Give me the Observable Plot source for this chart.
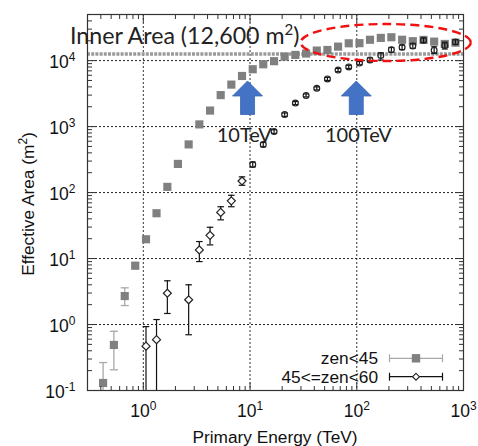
<!DOCTYPE html>
<html><head><meta charset="utf-8">
<script src="https://cdn.jsdelivr.net/npm/d3@7"></script>
<script src="https://cdn.jsdelivr.net/npm/@observablehq/plot@0.6"></script>
<style>
html,body{margin:0;padding:0;background:#fff;}
#chart{width:478px;height:446px;overflow:hidden;}
</style></head><body><div id="chart"></div>
<script>
// ---- data ----
// zen<45 : bin energies (TeV) and effective areas (m^2)
const energyZen45 = [0.42, 0.53, 0.67, 0.84, 1.06, 1.33, 1.68, 2.11, 2.66, 3.35, 4.22, 5.31, 6.68, 8.41, 10.6, 13.3, 16.8, 21.1, 26.6, 33.5, 42.2, 53.1, 66.8, 84.1, 106, 133, 168, 211, 266, 335, 422, 531, 668, 841];
const areaZen45 = [0.13, 0.49, 2.7, 7.8, 19.6, 48.6, 122, 272, 537, 1080, 1750, 3000, 4330, 5850, 7400, 8800, 9800, 11500, 12200, 12800, 14200, 14500, 16300, 18300, 18400, 20700, 22100, 22600, 20700, 19700, 20600, 19400, 17900, 18700];
// visible error bars of zen<45
const errEnergyZen45 = [0.42, 0.53, 0.67, 0.84];
const errLoZen45 = [0.05, 0.206, 1.94, 7.0];
const errHiZen45 = [0.265, 0.79, 3.6, 8.6];
// 45<=zen<60
const energyZen60 = [1.06, 1.33, 1.68, 2.66, 3.35, 4.22, 5.31, 6.68, 8.41, 10.6, 13.3, 16.8, 21.1, 26.6, 33.5, 42.2, 53.1, 66.8, 84.1, 106, 133, 168, 211, 266, 335, 422, 531, 668, 841];
const areaZen60 = [0.47, 0.59, 2.98, 2.37, 13.5, 22.5, 50, 75, 150, 266, 534, 840, 1520, 2270, 2970, 3800, 5280, 7180, 8030, 9170, 10250, 12000, 14600, 15900, 16700, 20400, 14300, 16900, 19100];
const errLoZen60 = [0.03, 0.03, 1.47, 0.70, 9.0, 16.1, 38.6, 61, 129, 245, 495, 790, 1430, 2150, 2820, 3600, 5000, 6800, 7600, 8650, 9550, 10200, 13400, 14700, 15400, 18800, 12800, 15000, 17600];
const errHiZen60 = [0.93, 1.19, 4.6, 4.0, 18.1, 29.8, 61, 91, 173, 290, 575, 895, 1610, 2400, 3130, 4000, 5580, 7600, 8500, 9700, 11000, 13100, 15800, 17200, 18200, 22100, 16200, 19000, 20800];
const innerArea = [12600];
const arrowEnergies = [10, 100];
const arrowLabels = ["10TeV", "100TeV"];
// axes
const xDomain = [0.3, 1000];
const yDomain = [0.1, 50000];
const xTickValues = [1, 10, 100, 1000];
const xTickLabels = ["10^0", "10^1", "10^2", "10^3"];
const yTickValues = [0.1, 1, 10, 100, 1000, 10000];
const yTickLabels = ["10^-1", "10^0", "10^1", "10^2", "10^3", "10^4"];
const xGrid = [1, 10, 100];
const yGrid = [1, 10, 100, 1000, 10000];
const seriesNames = ["zen<45", "45<=zen<60"];
const xTitle = "Primary Energy (TeV)";
const yTitle = "Effective Area (m^2)";
const innerLabel = "Inner Area (12,600 m^2)";

// ---- build tables ----
const zen45 = energyZen45.map((e, i) => ({e, a: areaZen45[i]}));
const err45 = errEnergyZen45.map((e, i) => ({e, lo: errLoZen45[i], hi: errHiZen45[i]}));
const zen60 = energyZen60.map((e, i) => ({e, a: areaZen60[i], lo: errLoZen60[i], hi: errHiZen60[i]}));
const inY = v => v >= yDomain[0] && v <= yDomain[1];

// custom line symbols for ticks/caps
const sym = (dx, dy, both) => ({draw(ctx, size) {
  const r = Math.sqrt(size / Math.PI);
  if (both) { ctx.moveTo(-r * dx, -r * dy); ctx.lineTo(r * dx, r * dy); }
  else { ctx.moveTo(0, 0); ctx.lineTo(r * dx, r * dy); }
}});
const tickUp = sym(0, -1), tickDown = sym(0, 1), tickRight = sym(1, 0), tickLeft = sym(-1, 0);
const capH = sym(1, 0, true);

const xAll = d3.scaleLog().domain(xDomain).ticks();
const yAll = d3.scaleLog().domain(yDomain).ticks();
const isDecade = v => Math.abs(Math.log10(v) - Math.round(Math.log10(v))) < 1e-9;
const xMinor = xAll.filter(v => !isDecade(v)), xMajor = xAll.filter(isDecade);
const yMinor = yAll.filter(v => !isDecade(v)), yMajor = yAll.filter(isDecade);

const axisColor = "#333";
const tickMarks = [];
for (const [anchor, s] of [["bottom", tickUp], ["top", tickDown]]) {
  tickMarks.push(Plot.dot(xMinor, {x: d => d, frameAnchor: anchor, symbol: s, r: 4.5, stroke: axisColor, fill: "none", strokeWidth: 1}));
  tickMarks.push(Plot.dot(xMajor, {x: d => d, frameAnchor: anchor, symbol: s, r: 8, stroke: axisColor, fill: "none", strokeWidth: 1}));
}
for (const [anchor, s] of [["left", tickRight], ["right", tickLeft]]) {
  tickMarks.push(Plot.dot(yMinor, {y: d => d, frameAnchor: anchor, symbol: s, r: 4.5, stroke: axisColor, fill: "none", strokeWidth: 1}));
  tickMarks.push(Plot.dot(yMajor, {y: d => d, frameAnchor: anchor, symbol: s, r: 8, stroke: axisColor, fill: "none", strokeWidth: 1}));
}

const grayBar = "#a8a8a8";
const darkBar = "#111";
const small = d => d.e < 10;

const plot = Plot.plot({
  width: 478, height: 446,
  marginLeft: 87, marginRight: 15, marginTop: 14, marginBottom: 56,
  style: {fontFamily: "'Liberation Sans', Arial, sans-serif", fontSize: "17.5px", background: "white", color: "#111", overflow: "visible"},
  x: {type: "log", domain: xDomain, axis: null},
  y: {type: "log", domain: yDomain, axis: null},
  marks: [
    Plot.ruleX(xGrid, {x: d => d, stroke: "#333", strokeWidth: 1, strokeDasharray: "2,2"}),
    Plot.ruleY(yGrid, {y: d => d, stroke: "#222", strokeWidth: 1, strokeDasharray: "2,2"}),
    Plot.ruleY(innerArea, {y: d => d, stroke: "#9a9a9a", strokeWidth: 3.5, strokeDasharray: "3,1.2"}),
    // zen<45 error bars + squares
    Plot.ruleX(err45, {x: "e", y1: d => Math.max(d.lo, yDomain[0]), y2: "hi", stroke: grayBar, strokeWidth: 1.3}),
    Plot.dot(err45.flatMap(d => [{e: d.e, v: d.lo}, {e: d.e, v: d.hi}]).filter(d => inY(d.v)), {x: "e", y: "v", symbol: capH, r: 4, stroke: grayBar, fill: "none", strokeWidth: 1.3}),
    Plot.dot(zen45, {x: "e", y: "a", symbol: "square", r: 4.6, fill: "#808080", stroke: "none"}),
    // 45<=zen<60 error bars + markers
    Plot.ruleX(zen60, {x: "e", y1: d => Math.max(d.lo, yDomain[0]), y2: "hi", stroke: darkBar, strokeWidth: 1.2}),
    Plot.dot(zen60.flatMap(d => [{e: d.e, v: d.lo, s: small(d)}, {e: d.e, v: d.hi, s: small(d)}]).filter(d => inY(d.v)),
      {x: "e", y: "v", symbol: capH, r: d => d.s ? 3.8 : 3.2, stroke: darkBar, fill: "none", strokeWidth: 1.2}),
    Plot.dot(zen60.filter(small), {x: "e", y: "a", symbol: "diamond2", r: 3.6, fill: "white", stroke: "#222", strokeWidth: 1.2}),
    Plot.dot(zen60.filter(d => !small(d)), {x: "e", y: "a", symbol: "circle", r: 2.9, fill: "none", stroke: "#222", strokeWidth: 1.2}),
    Plot.frame({stroke: axisColor, strokeWidth: 1.2}),
    ...tickMarks,
    Plot.text(xTickValues, {x: d => d, frameAnchor: "bottom", text: (d, i) => xTickLabels[i], textAnchor: "middle", lineAnchor: "bottom", dy: 26.7, fill: "#111"}),
    Plot.text(yTickValues, {y: d => d, frameAnchor: "left", text: (d, i) => yTickLabels[i], textAnchor: "end", dx: -12, dy: 2, fill: "#111"})
  ]
});
document.getElementById("chart").appendChild(plot);

const svg = d3.select(plot.tagName.toLowerCase() === "svg" ? plot : plot.querySelector("svg"));
const sx = plot.scale("x"), sy = plot.scale("y");

// superscript helper: "base^sup" -> base + raised tspan
function supify(node, supSize, rise) {
  const t = node.textContent;
  const m = /^(.*?)\^([^)]+)(\)?)$/.exec(t);
  if (!m) return;
  const sel = d3.select(node);
  sel.text(m[1]);
  sel.append("tspan").attr("dy", -rise).attr("font-size", supSize).text(m[2]);
  if (m[3]) sel.append("tspan").attr("dy", rise).text(m[3]);
}
svg.selectAll("text").each(function() { supify(this, "12px", 7.5); });

const ann = svg.append("g").attr("text-anchor", "start");
// dashed ellipse highlighting the plateau
ann.append("ellipse").attr("cx", 385.7).attr("cy", 42.5).attr("rx", 85).attr("ry", 18.5)
  .attr("fill", "none").attr("stroke", "#f01010").attr("stroke-width", 2.4).attr("stroke-dasharray", "9,5");

// block arrows + labels
arrowEnergies.forEach((e, i) => {
  const cx = sx.apply(e) - (i === 0 ? 2 : 0);
  const tip = 81, base = 96, bottom = 114.5, hw = 15, sw = 7;
  ann.append("path")
    .attr("d", `M${cx},${tip} L${cx + hw},${base} L${cx + sw},${base} L${cx + sw},${bottom} L${cx - sw},${bottom} L${cx - sw},${base} L${cx - hw},${base} Z`)
    .attr("fill", "#4472C4").attr("stroke", "#3a65b5").attr("stroke-width", 0.8);
});
const lblX = [216.7, 325];
arrowLabels.forEach((t, i) => {
  ann.append("text").attr("x", lblX[i]).attr("y", 141.5).attr("text-anchor", "start").attr("font-family", "Lato, 'Open Sans', sans-serif")
    .attr("font-size", 20).attr("fill", "#222").text(t);
});

// inner area label
const il = ann.append("text").attr("x", 70).attr("y", 43.5).attr("text-anchor", "start").attr("font-family", "Lato, 'Open Sans', sans-serif")
  .attr("font-size", 23.2).attr("fill", "#222").text(innerLabel);
supify(il.node(), "15px", 8.5);

// axis titles
ann.append("text").attr("x", 275).attr("y", 442.5).attr("text-anchor", "middle")
  .attr("font-family", "'Liberation Sans', Arial, sans-serif").attr("font-size", 17.3).attr("fill", "#111").text(xTitle);
const yt = ann.append("text").attr("transform", "translate(33.5,204) rotate(-90)").attr("text-anchor", "middle")
  .attr("font-family", "'Liberation Sans', Arial, sans-serif").attr("font-size", 17.3).attr("fill", "#111").text(yTitle);
supify(yt.node(), "12px", 7);

// legend
const lg = ann.append("g").attr("font-family", "'Liberation Sans', Arial, sans-serif").attr("font-size", 17.3).attr("fill", "#111");
const rows = [{y: 358.3, col: grayBar}, {y: 376.7, col: darkBar}];
rows.forEach((r, i) => {
  lg.append("text").attr("x", 378).attr("y", r.y + 5.8).attr("text-anchor", "end").text(seriesNames[i]);
  lg.append("line").attr("x1", 389.5).attr("x2", 442.5).attr("y1", r.y).attr("y2", r.y).attr("stroke", r.col).attr("stroke-width", 1.2);
  [389.5, 442.5].forEach(x => lg.append("line").attr("x1", x).attr("x2", x).attr("y1", r.y - 4).attr("y2", r.y + 4).attr("stroke", r.col).attr("stroke-width", 1.2));
});
lg.append("rect").attr("x", 416 - 4.2).attr("y", 358.3 - 4.2).attr("width", 8.4).attr("height", 8.4).attr("fill", "#808080");
lg.append("path").attr("d", d3.symbol(d3.symbolDiamond2, 30)()).attr("transform", "translate(416,376.7)")
  .attr("fill", "white").attr("stroke", "#222").attr("stroke-width", 1.1);
</script></body></html>
